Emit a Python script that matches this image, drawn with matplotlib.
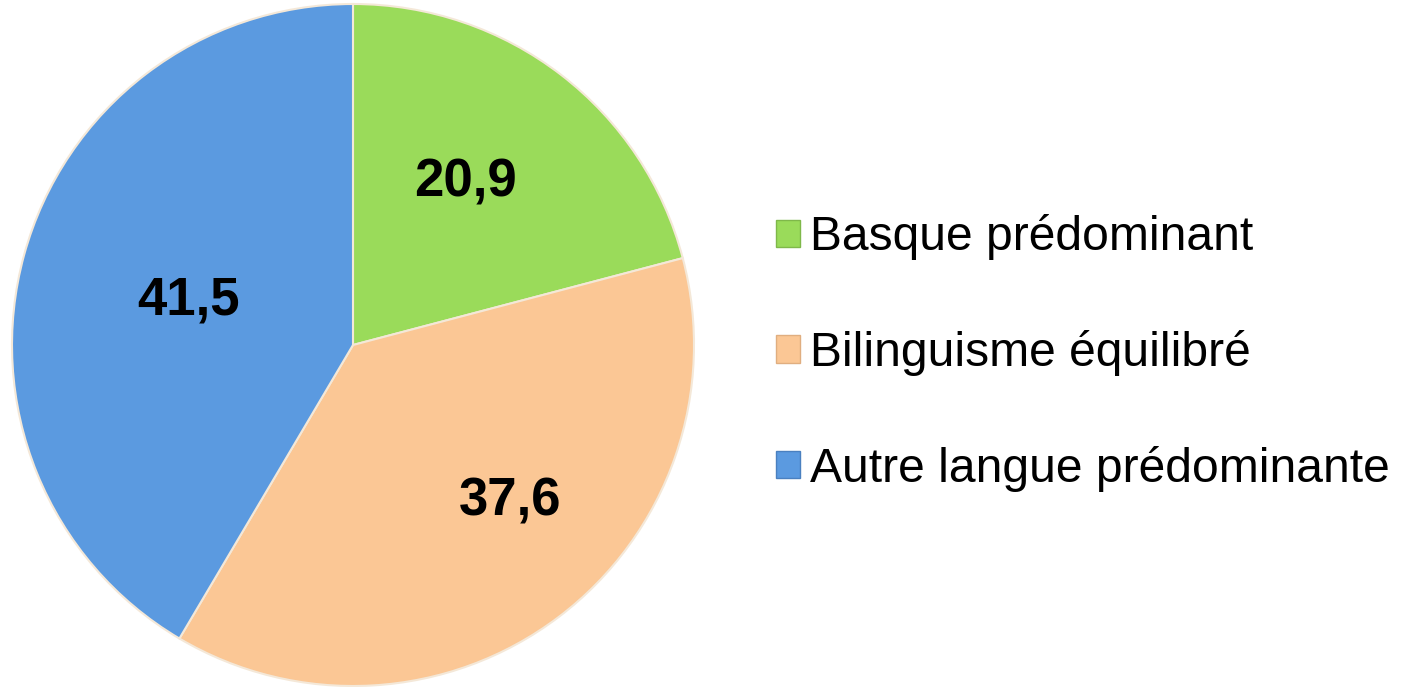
import numpy as np
import matplotlib.pyplot as plt
from matplotlib.patches import Rectangle

labels = ["Basque prédominant", "Bilinguisme équilibré", "Autre langue prédominante"]
values = [20.9, 37.6, 41.5]
colors = ["#9ADB5A", "#FBC795", "#5B9AE0"]
edge_colors = ["#7FB84A", "#E0AE80", "#4A80C0"]

# label placement inside the slices (fraction of radius, angle nudge in degrees)
label_dist = [0.58, 0.65, 0.5]
label_nudge = [3, 8, 0]

plt.rcParams["font.family"] = ["Liberation Sans", "DejaVu Sans"]

fig = plt.figure(figsize=(14.04, 6.87), dpi=100)

# pie axes: square area on the left
ax = fig.add_axes([12 / 1404, 1 / 687, 682 / 1404, 682 / 687])
wedges, texts, autotexts = ax.pie(
    values,
    colors=colors,
    startangle=90,
    counterclock=False,
    autopct=lambda p: f"{p:.1f}".replace(".", ","),
    wedgeprops=dict(edgecolor="#F4E8D8", linewidth=1.5),
    textprops=dict(fontsize=38, fontweight="bold", color="black"),
)
for w, t, d, n in zip(wedges, autotexts, label_dist, label_nudge):
    ang = np.deg2rad((w.theta1 + w.theta2) / 2 + n)
    t.set_position((d * np.cos(ang), d * np.sin(ang)))
ax.set_xlim(-1.0, 1.0)
ax.set_ylim(-1.0, 1.0)
ax.set_aspect("equal")

# legend with square markers
handles = [
    Rectangle((0, 0), 1, 1, facecolor=c, edgecolor=e, linewidth=1)
    for c, e in zip(colors, edge_colors)
]
fig.legend(
    handles,
    labels,
    loc="center left",
    bbox_to_anchor=(757 / 1404, 334 / 687),
    frameon=False,
    fontsize=34.6,
    handlelength=0.5,
    handleheight=0.5,
    handletextpad=0.2,
    labelspacing=1.45,
    borderaxespad=0,
)

fig.savefig("out.png", dpi=100)
